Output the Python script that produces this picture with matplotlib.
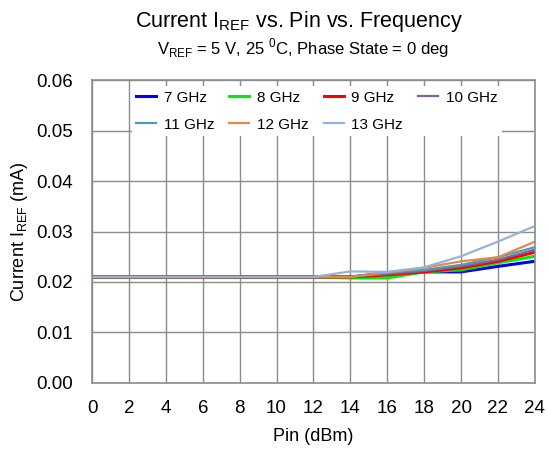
import matplotlib
matplotlib.use("Agg")
import matplotlib.pyplot as plt

plt.rcParams["font.family"] = ["Liberation Sans", "DejaVu Sans"]

pin_dbm = [0, 2, 4, 6, 8, 10, 12, 14, 16, 18, 20, 22, 24]

flat = [0.021] * 7
i_7ghz = flat + [0.0210, 0.0218, 0.0220, 0.0220, 0.0231, 0.0241]
i_8ghz = flat + [0.0208, 0.0208, 0.0220, 0.0224, 0.0238, 0.0251]
i_9ghz = flat + [0.0210, 0.0214, 0.0220, 0.0228, 0.0241, 0.0259]
i_10ghz = flat + [0.0210, 0.0216, 0.0222, 0.0231, 0.0244, 0.0264]
i_11ghz = flat + [0.0210, 0.0219, 0.0224, 0.0234, 0.0249, 0.0269]
i_12ghz = flat + [0.0210, 0.0219, 0.0228, 0.0241, 0.0249, 0.0280]
i_13ghz = flat + [0.0221, 0.0220, 0.0229, 0.0251, 0.0280, 0.0311]

series = [
    ("7 GHz", i_7ghz, "#0000ff", 2.2),
    ("8 GHz", i_8ghz, "#00ee00", 2.2),
    ("9 GHz", i_9ghz, "#ff0000", 2.2),
    ("10 GHz", i_10ghz, "#7f62a0", 1.6),
    ("11 GHz", i_11ghz, "#4a9db4", 1.6),
    ("12 GHz", i_12ghz, "#e38a48", 1.6),
    ("13 GHz", i_13ghz, "#95b3d7", 1.6),
]

fig = plt.figure(figsize=(5.48, 4.5), dpi=100)
ax = fig.add_axes([0.168, 0.149, 0.808, 0.673])

lines = []
for label, vals, color, lw in series:
    (ln,) = ax.plot(pin_dbm, vals, color=color, linewidth=lw, label=label)
    lines.append(ln)

ax.set_xlim(0, 24)
ax.set_ylim(0, 0.06)
ax.set_xticks(range(0, 25, 2))
ax.set_yticks([i / 100 for i in range(7)])
ax.set_yticklabels([f"{i / 100:.2f}" for i in range(7)])
ax.tick_params(labelsize=13.5, length=0)
ax.tick_params(axis="y", pad=14)
ax.tick_params(axis="x", pad=12)
ax.grid(True, color="#8c8c8c", linewidth=1.0)
ax.set_axisbelow(True)
for side in ax.spines.values():
    side.set_color("#8c8c8c")
    side.set_linewidth(1.2)

ax.set_xlabel("Pin (dBm)", fontsize=13, labelpad=8)
ax.set_ylabel("Current I$_{\\mathregular{REF}}$ (mA)", fontsize=13, labelpad=4)

fig.text(0.545, 0.952, "Current I$_{\\mathregular{REF}}$ vs. Pin vs. Frequency",
         ha="center", va="center", fontsize=15.5)
fig.text(0.553, 0.893,
         "V$_{\\mathregular{REF}}$ = 5 V, 25 $^{\\mathregular{0}}$C, Phase State = 0 deg",
         ha="center", va="center", fontsize=12)

# legend fills row by row: reorder for matplotlib's column-major fill
order = [0, 4, 1, 5, 2, 6, 3]
leg = ax.legend([lines[i] for i in order], [series[i][0] for i in order],
                loc="upper left", bbox_to_anchor=(0.072, 1.005), ncol=4,
                fontsize=11, frameon=True, framealpha=1.0, edgecolor="white",
                fancybox=False, handlelength=1.3, handletextpad=0.5,
                columnspacing=1.0, borderpad=0.3, labelspacing=0.85)
leg.get_frame().set_linewidth(0)

fig.savefig("out.png", dpi=100, facecolor="white")
